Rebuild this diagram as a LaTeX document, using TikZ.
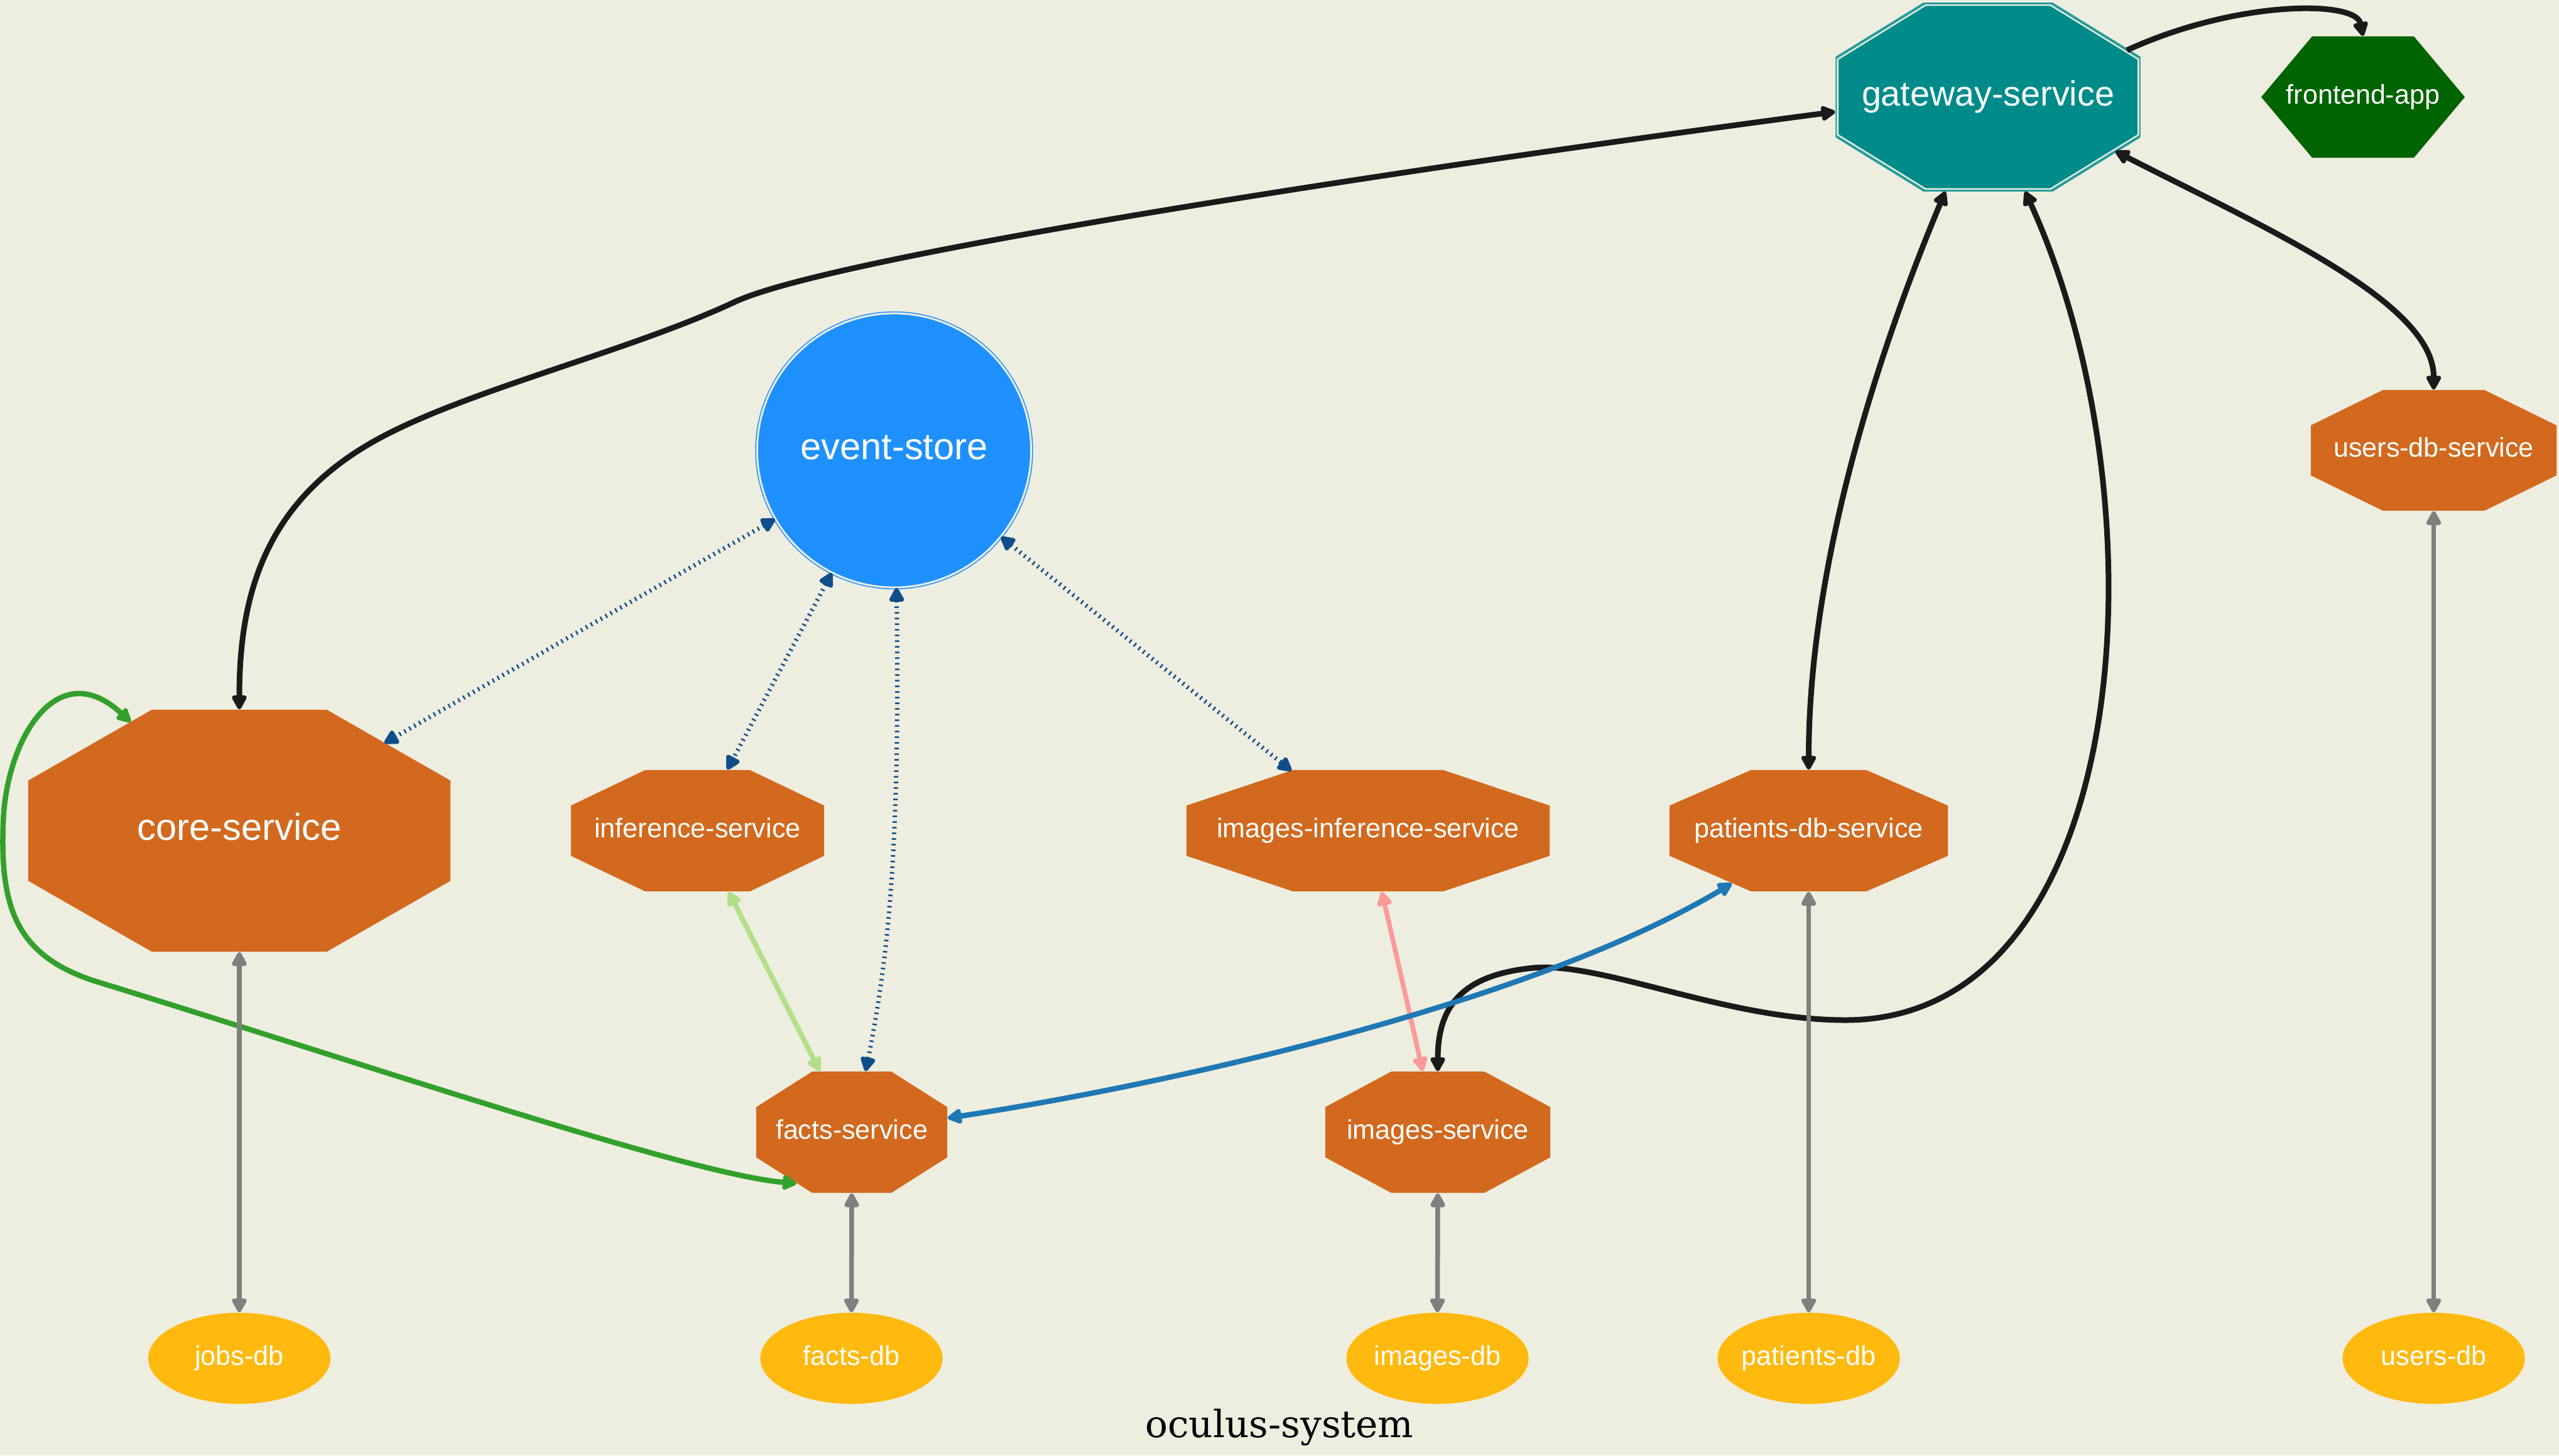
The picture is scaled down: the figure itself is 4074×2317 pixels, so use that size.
\documentclass[tikz,border=0pt]{standalone}
\usepackage{fontspec}
\usetikzlibrary{calc,arrows.meta,shapes.geometric}
\newfontfamily\labelfont{Liberation Sans}
\newfontfamily\titlefont{DejaVu Serif}

\definecolor{paper}{HTML}{EEEEE0}
\definecolor{chocolate}{HTML}{D2691E}
\definecolor{darkcyan}{HTML}{008B8B}
\definecolor{darkgreen}{HTML}{006400}
\definecolor{dodger}{HTML}{1E90FF}
\definecolor{goldenrod}{HTML}{FFB90F}
\definecolor{edgeblack}{HTML}{1A1A1A}
\definecolor{edgegray}{HTML}{7F7F7F}
\definecolor{dotblue}{HTML}{104E8B}
\definecolor{pairgreen}{HTML}{33A02C}
\definecolor{lightgreen}{HTML}{B2DF8A}
\definecolor{salmonpink}{HTML}{FB9A99}
\definecolor{pairblue}{HTML}{1F78B4}

\newcommand\svcfont{\labelfont\fontsize{12.26}{14}\selectfont}
\newcommand\gwfont{\labelfont\fontsize{15.82}{18}\selectfont}
\newcommand\bigfont{\labelfont\fontsize{16.95}{20}\selectfont}

\tikzset{
  octfill/.style={path picture={\fill[#1] let \p1=(path picture bounding box.south west),
      \p2=(path picture bounding box.north east), \n1={0.2929*(\x2-\x1)}, \n2={0.2929*(\y2-\y1)} in
      (\x1+\n1,\y1) -- (\x2-\n1,\y1) -- (\x2,\y1+\n2) -- (\x2,\y2-\n2) -- (\x2-\n1,\y2)
      -- (\x1+\n1,\y2) -- (\x1,\y2-\n2) -- (\x1,\y1+\n2) -- cycle;}},
  svc/.style={octfill=chocolate, inner sep=0pt, text=white, font=\svcfont,
      text height=8.83pt, text depth=2.84pt, minimum height=1.93cm},
  bigsvc/.style={octfill=chocolate, inner sep=0pt, text=white, font=\bigfont,
      text height=12.2pt, text depth=3.93pt},
  gatewaybox/.style={inner sep=0pt, text=white, font=\gwfont,
      text height=11.39pt, text depth=3.67pt,
      path picture={
        \fill[darkcyan] let \p1=(path picture bounding box.south west),
          \p2=(path picture bounding box.north east), \n1={0.2929*(\x2-\x1)}, \n2={0.2929*(\y2-\y1)} in
          (\x1+\n1,\y1) -- (\x2-\n1,\y1) -- (\x2,\y1+\n2) -- (\x2,\y2-\n2) -- (\x2-\n1,\y2)
          -- (\x1+\n1,\y2) -- (\x1,\y2-\n2) -- (\x1,\y1+\n2) -- cycle;
        \draw[paper, line width=0.09cm] let \p1=(path picture bounding box.south west),
          \p2=(path picture bounding box.north east), \n1={0.2929*(\x2-\x1)}, \n2={0.2929*(\y2-\y1)} in
          (\x1+\n1,\y1) -- (\x2-\n1,\y1) -- (\x2,\y1+\n2) -- (\x2,\y2-\n2) -- (\x2-\n1,\y2)
          -- (\x1+\n1,\y2) -- (\x1,\y2-\n2) -- (\x1,\y1+\n2) -- cycle;
        \draw[darkcyan!85!white, line width=0.04cm] let \p1=(path picture bounding box.south west),
          \p2=(path picture bounding box.north east), \n1={0.2929*(\x2-\x1)}, \n2={0.2929*(\y2-\y1)} in
          (\x1+\n1,\y1) -- (\x2-\n1,\y1) -- (\x2,\y1+\n2) -- (\x2,\y2-\n2) -- (\x2-\n1,\y2)
          -- (\x1+\n1,\y2) -- (\x1,\y2-\n2) -- (\x1,\y1+\n2) -- cycle;}},
  hexbox/.style={inner sep=0pt, text=white, font=\svcfont,
      text height=8.83pt, text depth=2.84pt,
      path picture={\fill[darkgreen] let \p1=(path picture bounding box.south west),
          \p2=(path picture bounding box.north east), \n1={0.25*(\x2-\x1)} in
          (\x1,\y1*0.5+\y2*0.5) -- (\x1+\n1,\y1) -- (\x2-\n1,\y1) -- (\x2,\y1*0.5+\y2*0.5)
          -- (\x2-\n1,\y2) -- (\x1+\n1,\y2) -- cycle;}},
  dbnode/.style={ellipse, fill=goldenrod, inner sep=0pt, minimum width=2.9cm,
      minimum height=1.45cm, text=white, font=\svcfont, text height=8.83pt, text depth=2.84pt},
  >={Triangle[length=0.26cm,width=0.26cm,round]},
  blackedge/.style={draw=edgeblack, line width=0.09cm},
  grayedge/.style={draw=edgegray, line width=0.075cm},
  dotedge/.style={draw=dotblue, line width=0.07cm, dash pattern=on 0.025cm off 0.065cm},
  greenedge/.style={draw=pairgreen, line width=0.085cm},
  lgreenedge/.style={draw=lightgreen, line width=0.08cm},
  pinkedge/.style={draw=salmonpink, line width=0.075cm},
  blueedge/.style={draw=pairblue, line width=0.085cm},
}

\begin{document}
\begin{tikzpicture}[x=0.01cm, y=-0.01cm]
  % canvas
  \fill[paper] (0,0) rectangle (4074,2317);
  \useasboundingbox (0,0) rectangle (4074,2317);

  % services
  \node[gatewaybox, minimum width=4.85cm, minimum height=2.99cm] (gw) at (3165,154.5) {gateway-service};
  \node[hexbox, minimum width=3.24cm, minimum height=1.93cm] (fe) at (3762,154.5) {frontend-app};
  \node[circle, fill=dodger, draw=dodger, line width=0.016cm, double=paper, double distance=0.03cm,
        minimum size=4.36cm, inner sep=0pt, text=white, font=\bigfont,
        text height=12.2pt, text depth=3.93pt] (es) at (1423.5,717) {event-store};
  \node[svc, minimum width=3.91cm, minimum height=1.92cm] (uds) at (3874.5,717) {users-db-service};
  \node[bigsvc, minimum width=6.72cm, minimum height=3.85cm] (core) at (381,1322.5) {core-service};
  \node[svc, minimum width=4.03cm] (inf) at (1110.5,1322.5) {inference-service};
  \node[svc, minimum width=5.78cm] (iis) at (2178,1322.5) {images-inference-service};
  \node[svc, minimum width=4.43cm] (pds) at (2879.5,1322.5) {patients-db-service};
  \node[svc, minimum width=3.04cm] (facts) at (1356,1802.5) {facts-service};
  \node[svc, minimum width=3.58cm] (imgs) at (2289,1802.5) {images-service};

  % databases
  \node[dbnode] (jobs) at (381,2162.5) {\makebox[0pt]{jobs-db}};
  \node[dbnode] (factsdb) at (1355.5,2162.5) {\makebox[0pt]{facts-db}};
  \node[dbnode] (imgsdb) at (2288.5,2162.5) {\makebox[0pt]{images-db}};
  \node[dbnode] (patdb) at (2879.5,2162.5) {\makebox[0pt]{patients-db}};
  \node[dbnode] (usersdb) at (3874.5,2162.5) {\makebox[0pt]{users-db}};

  % graph label
  \node[font=\titlefont\fontsize{16.98}{20}\selectfont, anchor=base, inner sep=0pt] (title)
       at (2037,2288) {oculus-system};

  % gateway connections
  \draw[blackedge,->] ([shift={(221,-74.5)}]gw.center) .. controls (3560,0) and (3750,0) .. (fe.north);
  \draw[blackedge,<->] (core.north) .. controls (381,950) and (420,800) .. (598,701)
        .. controls (740,622) and (1000,560) .. (1169,481)
        .. controls (1330,405) and (2300,260) .. ([shift={(0,23.5)}]gw.west);
  \draw[blackedge,<->] ([shift={(-68,0)}]gw.south) .. controls (2990,560) and (2879.5,900) .. (pds.north);
  \draw[blackedge,<->] ([shift={(59,0)}]gw.south) .. controls (3450,800) and (3400,1620) .. (2941,1624)
        .. controls (2750,1625) and (2550,1530) .. (2440,1541)
        .. controls (2330,1552) and (2289,1600) .. (imgs.north);
  \draw[blackedge,<->] ([shift={(203,86.5)}]gw.center) .. controls (3600,360) and (3874.5,480) .. (uds.north);

  % core to facts loop
  \draw[greenedge,<->] ([shift={(-173,-173)}]core.center) .. controls (90,1040) and (8,1180) .. (5,1313)
        .. controls (0,1450) and (30,1520) .. (145,1560)
        .. controls (600,1700) and (1100,1870) .. ([shift={(-88,81.5)}]facts.center);

  % event store links
  \draw[dotedge,<->] (es.210) -- ([shift={(231,-139.5)}]core.center);
  \draw[dotedge,<->] (es.243) -- ([shift={(47.5,0)}]inf.north);
  \draw[dotedge,<->] (es.271) .. controls (1432,1300) and (1420,1500) .. ([shift={(22,0)}]facts.north);
  \draw[dotedge,<->] (es.321) -- ([shift={(-122,2)}]iis.north);

  % service to service
  \draw[lgreenedge,<->] ([shift={(49.5,0)}]inf.south) -- ([shift={(-51,0)}]facts.north);
  \draw[pinkedge,<->] ([shift={(22,0)}]iis.south) -- ([shift={(-24,0)}]imgs.north);
  \draw[blueedge,<->] ([shift={(0,-22.5)}]facts.east) .. controls (1900,1720) and (2450,1590)
        .. ([shift={(-122.5,84)}]pds.center);

  % storage links
  \draw[grayedge,<->] (core.south) -- (jobs.north);
  \draw[grayedge,<->] (facts.south) -- (factsdb.north);
  \draw[grayedge,<->] (imgs.south) -- (imgsdb.north);
  \draw[grayedge,<->] (pds.south) -- (patdb.north);
  \draw[grayedge,<->] (uds.south) -- (usersdb.north);
\end{tikzpicture}
\end{document}
